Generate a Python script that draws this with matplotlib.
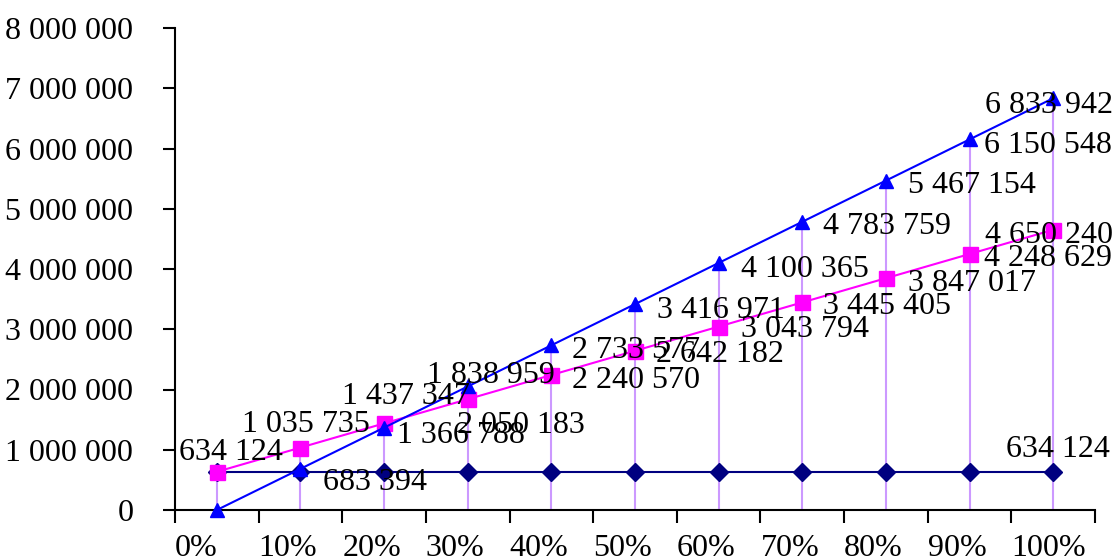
import matplotlib
matplotlib.use("Agg")
import matplotlib.pyplot as plt
import numpy as np

# Category labels and series values
categories = ["0%", "10%", "20%", "30%", "40%", "50%", "60%", "70%", "80%", "90%", "100%"]
rising_fast = [0, 683394, 1366788, 2050183, 2733577, 3416971,
               4100365, 4783759, 5467154, 6150548, 6833942]
rising_slow = [634124, 1035735, 1437347, 1838959, 2240570, 2642182,
               3043794, 3445405, 3847017, 4248629, 4650240]
constant = [634124] * 11

y_ticks = [0, 1000000, 2000000, 3000000, 4000000, 5000000, 6000000, 7000000, 8000000]

# Label offsets (pixels) from each point to the label's text centre (dx right, dy down)
fast_label_offsets = [None, (75, 11), (77, 5), (53, 36), (85, 2), (86, 3),
                      (86, 4), (85, 2), (86, 2), (78, 3), (-4, 4)]
slow_label_offsets = [(14, -22), (5, -26), (22, -30), (23, -27), (85, 2), (85, 1),
                      (86, 0), (85, 1), (86, 2), (78, 1), (-4, 3)]
const_label_offsets = [None] * 10 + [(5, -25)]

FONT = "Liberation Serif"
FS = 23
plt.rcParams["font.family"] = FONT

def fmt(v):
    return f"{v:,}".replace(",", " ")

fig = plt.figure(figsize=(11.16, 5.58), dpi=100)
ax = fig.add_axes([175 / 1116, 48 / 558, 920 / 1116, 482 / 558])

x = np.arange(len(categories))

# drop lines from the highest point of each category to the axis
tops = np.maximum(np.maximum(rising_fast, rising_slow), constant)
ax.vlines(x, 0, tops, color="#CC99FF", lw=1.5, zorder=1)

ax.plot(x, constant, color="#000080", lw=1.5, marker="D", ms=9,
        mec="#000080", mfc="#000080", zorder=3, clip_on=False)
ax.plot(x, rising_slow, color="#FF00FF", lw=1.5, marker="s", ms=10.8,
        mec="#FF00FF", mfc="#FF00FF", zorder=4, clip_on=False)
ax.plot(x, rising_fast, color="#0000FF", lw=1.5, marker="^", ms=10.5,
        mec="#0000FF", mfc="#0000FF", zorder=5, clip_on=False)

def put_labels(values, offsets):
    for xi, v, off in zip(x, values, offsets):
        if off is None:
            continue
        dx, dy = off
        ax.annotate(fmt(v), (xi, v), xytext=(dx, -(dy + 10.5)),
                    textcoords="offset pixels", ha="center", va="baseline",
                    fontsize=FS, color="black", zorder=6, annotation_clip=False)

put_labels(rising_fast, fast_label_offsets)
put_labels(rising_slow, slow_label_offsets)
put_labels(constant, const_label_offsets)

ax.set_xlim(-0.5, len(categories) - 0.5)
ax.set_ylim(0, 8000000)

ax.set_yticks(y_ticks)
ax.set_yticklabels([fmt(v) for v in y_ticks], fontsize=FS)

bounds = np.arange(len(categories) + 1) - 0.5
ax.set_xticks(bounds)
ax.set_xticklabels(categories + [""], fontsize=FS, ha="left")

for side in ("top", "right"):
    ax.spines[side].set_visible(False)
for side in ("left", "bottom"):
    ax.spines[side].set_linewidth(1.5)
    ax.spines[side].set_color("black")

ax.tick_params(axis="y", direction="out", length=9, width=1.5, pad=21)
ax.tick_params(axis="x", direction="out", length=9, width=1.5, pad=8)

fig.savefig("out.png", dpi=100)
